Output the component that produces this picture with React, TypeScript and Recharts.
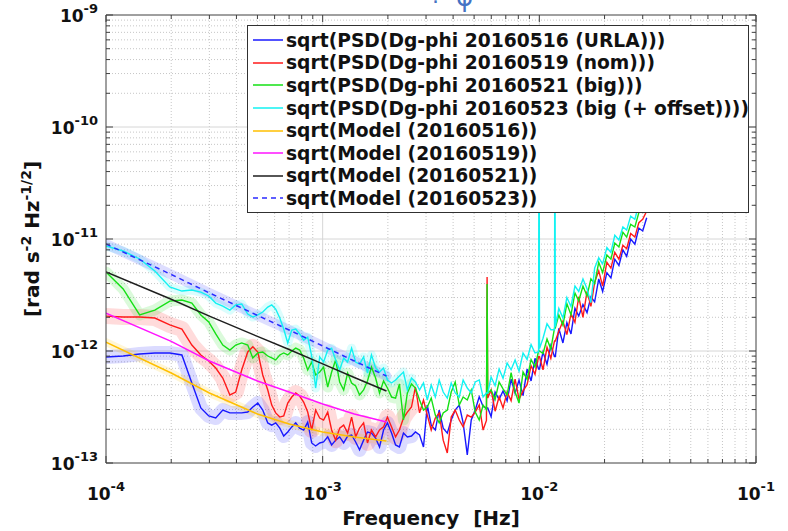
import React from 'react';
import { ComposedChart, Line, XAxis, YAxis, CartesianGrid, Legend, Label } from 'recharts';

const FONT = '"DejaVu Sans", "Liberation Sans", sans-serif';
const AXIS = '#404040';
const TEXT = '#111111';

// frequency grid shared by the four measured spectra [Hz]
const FREQ_HZ = [
  1.0e-4, 1.2e-4, 1.43e-4, 1.68e-4, 1.97e-4, 2.24e-4, 2.49e-4, 2.74e-4, 2.98e-4, 3.21e-4,
  3.46e-4, 3.73e-4, 3.97e-4, 4.23e-4, 4.51e-4, 4.76e-4, 5.02e-4, 5.29e-4, 5.58e-4, 5.82e-4,
  6.07e-4, 6.34e-4, 6.61e-4, 6.9e-4, 7.2e-4, 7.51e-4, 7.83e-4, 8.17e-4, 8.53e-4, 8.9e-4,
  9.28e-4, 9.69e-4,
  1.01e-3, 1.055e-3, 1.1e-3, 1.148e-3, 1.198e-3, 1.25e-3, 1.304e-3, 1.36e-3, 1.42e-3, 1.48e-3,
  1.545e-3, 1.61e-3, 1.68e-3, 1.755e-3, 1.83e-3, 1.91e-3, 1.99e-3, 2.08e-3, 2.17e-3, 2.26e-3,
  2.36e-3, 2.46e-3, 2.57e-3, 2.68e-3, 2.8e-3, 2.92e-3, 3.04e-3, 3.17e-3, 3.31e-3, 3.45e-3,
  3.6e-3, 3.76e-3, 3.92e-3, 4.09e-3, 4.27e-3, 4.45e-3, 4.65e-3, 4.85e-3, 5.06e-3, 5.28e-3,
  5.5e-3, 5.7e-3, 5.74e-3, 5.78e-3, 5.99e-3, 6.25e-3, 6.52e-3, 6.8e-3, 7.1e-3, 7.41e-3,
  7.73e-3, 8.06e-3, 8.41e-3, 8.78e-3, 9.16e-3, 9.55e-3, 9.92e-3, 9.97e-3, 1.002e-2, 1.04e-2,
  1.085e-2, 1.13e-2, 1.175e-2, 1.18e-2, 1.185e-2, 1.23e-2, 1.285e-2, 1.34e-2, 1.4e-2, 1.46e-2,
  1.52e-2, 1.59e-2, 1.66e-2, 1.73e-2, 1.8e-2, 1.88e-2, 1.96e-2, 2.05e-2, 2.14e-2, 2.23e-2,
  2.33e-2, 2.43e-2, 2.53e-2, 2.64e-2, 2.76e-2, 2.88e-2, 3.0e-2, 3.13e-2,
];

// all amplitudes below are in units of 1e-13 rad s^-2 Hz^-1/2
const PSD_0516 = [
  8.84, 9.02, 9.4, 9.61, 9.61, 9.22, 5.18, 3.1, 2.63, 2.52, 2.97, 2.8, 2.8, 2.8, 2.85, 3.16,
  3.43, 2.97, 2.28, 2.18, 2.28, 2.05, 1.74, 1.89, 2.1, 2.28, 2.05, 1.97, 2.32, 1.51, 1.42, 1.51,
  1.54, 1.71, 1.45, 1.6, 1.71, 1.51, 1.74, 1.78, 1.54, 1.31,
  1.6, 1.89, 1.85, 1.67, 1.39, 1.97, 2.28, 1.85, 1.45, 1.39,
  1.85, 1.71, 1.74, 1.89, 1.78, 1.39, 3.29, 2.18, 1.97, 2.97,
  2.05, 1.85, 2.42, 2.97, 3.29, 2.28, 1.18, 2.42,
  2.97, 3.9, 3.2, 3.1, 3.1, 3.1,
  2.6, 4.3, 3.7, 4.4, 3.6, 5.6, 4.2, 5.5, 4.0, 6.9, 5.4, 8.6,
  6.9, 6.9, 6.9, 9.8, 7.6, 11.2, 8.9, 8.9, 8.9,
  15.9, 11.8, 17.9, 14.2, 24.0, 20.5, 26.0, 22.0, 30.5, 27.5,
  44.0, 34.0, 50.0, 45.0, 66.0, 58.0, 80.0, 70.0, 100, 90,
  125, 118, 155,
];

const PSD_0519 = [
  20.5, 20.1, 20.1, 19.7, 17.1, 15.7, 11.3, 9.22, 8.14, 7.05, 5.74, 4.05, 4.3, 6.76, 9.8, 10.9,
  9.8, 6.11, 4.49, 3.29, 2.8, 2.57, 2.63, 3.43, 3.88, 4.22, 3.96, 3.5, 2.85, 1.97, 2.97, 2.52,
  2.42, 2.85, 1.97, 1.6, 2.05, 2.18, 1.85, 2.57, 1.71, 2.05,
  2.28, 1.51, 1.97, 1.71, 1.97, 2.1, 2.57, 2.1, 1.71, 1.97,
  2.52, 2.85, 3.16, 4.77, 2.8, 3.65, 2.68, 1.97, 2.52, 2.8,
  1.6, 1.23, 2.57, 2.97, 2.42, 2.1, 2.68, 2.57,
  2.85, 3.3, 1.97, 2.4, 45.8, 3.8,
  4.49, 2.9, 3.9, 3.1, 4.3, 3.6, 5.6, 3.7, 4.4, 5.0, 7.4, 6.2,
  8.9, 8.9, 8.9, 6.8, 10.8, 8.6, 12.3, 12.3, 12.3,
  15.0, 18.5, 14.0, 21.5, 18.0, 30.5, 20.0, 34.0, 25.0, 41.0,
  52.0, 38.0, 62.0, 55.0, 76.0, 66.0, 88.0, 82.0, 112, 104,
  140, 150, 178,
];

const PSD_0521 = [
  50.7, 35.8, 21.0, 23.2, 27.9, 28.5, 26.8, 21.0, 18.2, 14.2, 11.3, 10.2, 11.3, 11.8, 11.3, 8.66,
  9.61, 9.8, 9.02, 8.66, 8.32, 9.22, 9.61, 9.22, 10.0, 10.6, 10.2, 8.66, 6.76, 7.97, 6.11, 6.49,
  7.19, 4.77, 6.49, 8.32, 5.29, 4.49, 6.36, 5.18, 4.87, 4.05,
  4.49, 5.4, 7.19, 5.74, 4.22, 5.4, 4.67, 3.88, 3.8, 5.08,
  2.42, 4.22, 5.08, 4.67, 3.65, 2.97, 3.16, 3.8, 2.68, 2.28,
  2.8, 2.97, 4.3, 5.29, 3.29, 3.88, 3.65, 4.49,
  2.85, 2.42, 3.29, 3.0, 39.6, 4.2,
  4.49, 3.7, 5.3, 4.6, 4.05, 6.4, 4.3, 3.43, 6.5, 5.6, 8.4, 7.2,
  10.0, 10.0, 10.0, 9.5, 12.8, 10.4, 16.0, 16.0, 16.0,
  21.0, 17.0, 26.5, 21.0, 33.0, 28.0, 38.0, 31.0, 44.0, 40.0,
  62.0, 50.0, 72.0, 66.0, 92.0, 85.0, 115, 104, 135, 128,
  172, 185, 222,
];

const PSD_0523 = [
  86.6, 78.1, 66.3, 51.8, 37.3, 34.3, 35.0, 33.6, 31.0, 26.8, 25.2, 23.2, 25.8, 26.3, 21.4, 20.1,
  21.0, 22.3, 24.7, 25.8, 23.7, 19.7, 15.7, 11.8, 15.4, 15.7, 14.2, 12.5, 13.3, 9.02, 4.67, 8.85,
  7.97, 10.2, 10.6, 8.32, 6.76, 8.66, 7.97, 10.6, 7.97, 7.65,
  8.85, 6.36, 9.22, 7.05, 6.49, 7.05, 5.51, 5.18, 5.51, 5.98,
  6.49, 4.49, 5.74, 5.29, 4.49, 5.18, 3.65, 4.97, 3.88, 5.51,
  4.3, 3.8, 5.18, 4.22, 3.88, 5.51, 4.67, 4.22,
  5.29, 5.51, 3.88, 4.22, 4.22, 4.22,
  5.86, 4.9, 6.9, 5.7, 7.8, 6.8, 8.3, 6.6, 9.6, 8.4, 11.4, 9.6,
  9.8, 5000, 10.5, 13.0, 17.5, 15.5, 15.5, 5000, 16.5,
  24.0, 19.7, 30.0, 25.0, 38.0, 34.0, 44.0, 36.0, 27.0, 55.0,
  68.0, 60.0, 84.0, 76.0, 108, 98, 128, 120, 160, 150,
  205, 215, 250,
];

// model curves
const MODEL_FREQ_HZ = [1e-4, 2e-4, 3e-4, 5e-4, 7e-4, 1e-3, 1.4e-3, 1.97e-3];
const MODEL_0516 = [12.0, 6.36, 4.22, 2.74, 2.23, 1.89, 1.71, 1.57];
const MODEL_0519 = [21.8, 12.2, 8.14, 5.4, 4.3, 3.36, 2.74, 2.32];
const MODEL_0521 = [50.7, 29.0, 20.5, 13.5, 10.3, 7.67, 5.8, 4.39];
const MODEL_0523 = [90.2, 48.2, 33.0, 20.8, 15.4, 11.1, 8.14, 5.98];

const LEGEND_ITEMS = [
  { label: 'sqrt(PSD(Dg-phi 20160516 (URLA)))', color: '#1818ff', dash: undefined },
  { label: 'sqrt(PSD(Dg-phi 20160519 (nom)))', color: '#ff1a1a', dash: undefined },
  { label: 'sqrt(PSD(Dg-phi 20160521 (big)))', color: '#14e014', dash: undefined },
  { label: 'sqrt(PSD(Dg-phi 20160523 (big (+ offset))))', color: '#12f2f2', dash: undefined },
  { label: 'sqrt(Model (20160516))', color: '#ffbf00', dash: undefined },
  { label: 'sqrt(Model (20160519))', color: '#ff14ff', dash: undefined },
  { label: 'sqrt(Model (20160521))', color: '#1e1e1e', dash: undefined },
  { label: 'sqrt(Model (20160523))', color: '#2a2aff', dash: '5 4' },
];

const X_DECADES = [1e-4, 1e-3, 1e-2, 1e-1];
const Y_DECADES = [1, 10, 100, 1000, 10000];
const MINOR_STEPS = [2, 3, 4, 5, 6, 7, 8, 9];

const X_MINOR = X_DECADES.slice(0, -1).flatMap((d) => MINOR_STEPS.map((m) => m * d));
const Y_MINOR = Y_DECADES.slice(0, -1).flatMap((d) => MINOR_STEPS.map((m) => m * d));
const X_TICKS = [...X_DECADES, ...X_MINOR].sort((a, b) => a - b);
const Y_TICKS = [...Y_DECADES, ...Y_MINOR].sort((a, b) => a - b);

const psdRows = FREQ_HZ.map((f, i) => ({
  f,
  blue: PSD_0516[i],
  red: PSD_0519[i],
  green: PSD_0521[i],
  cyan: PSD_0523[i],
}));
const bandRows = psdRows.filter((r) => r.f <= 2.6e-3);
const modelRows = MODEL_FREQ_HZ.map((f, i) => ({
  f,
  yellow: MODEL_0516[i],
  magenta: MODEL_0519[i],
  black: MODEL_0521[i],
  dashed: MODEL_0523[i],
}));

const isDecade = (v: number) => {
  const l = Math.log10(v);
  return Math.abs(l - Math.round(l)) < 1e-6;
};

function BottomTick({ x, y, payload }: any) {
  const v = payload.value;
  const major = isDecade(v);
  return (
    <g>
      <line x1={x} x2={x} y1={y} y2={y - (major ? 7 : 4)} stroke={AXIS} />
      {major && (
        <text x={x} y={y + 37} textAnchor="middle" fontFamily={FONT} fontWeight="bold" fontSize={17} fill={TEXT}>
          10<tspan dy={-9} fontSize={13}>{Math.round(Math.log10(v))}</tspan>
        </text>
      )}
    </g>
  );
}

function TopTick({ x, y, payload }: any) {
  const major = isDecade(payload.value);
  return <line x1={x} x2={x} y1={y} y2={y + (major ? 7 : 4)} stroke={AXIS} />;
}

function LeftTick({ x, y, payload }: any) {
  const v = payload.value;
  const major = isDecade(v);
  return (
    <g>
      <line x1={x} x2={x + (major ? 7 : 4)} y1={y} y2={y} stroke={AXIS} />
      {major && (
        <text x={x - 8} y={y + 7} textAnchor="end" fontFamily={FONT} fontWeight="bold" fontSize={17} fill={TEXT}>
          10<tspan dy={-9} fontSize={13}>{-13 + Math.round(Math.log10(v))}</tspan>
        </text>
      )}
    </g>
  );
}

function RightTick({ x, y, payload }: any) {
  const major = isDecade(payload.value);
  return <line x1={x} x2={x - (major ? 7 : 4)} y1={y} y2={y} stroke={AXIS} />;
}

function YTitle(props: any) {
  const vb = props.viewBox || { x: 0, y: 15, width: 106, height: 448 };
  const cx = 39;
  const cy = vb.y + vb.height / 2;
  return (
    <text
      x={cx}
      y={cy}
      transform={`rotate(-90 ${cx} ${cy})`}
      textAnchor="middle"
      fontFamily={FONT}
      fontWeight="bold"
      fontSize={20}
      fill={TEXT}
    >
      [rad s<tspan dy={-8} fontSize={14}>-2</tspan>
      <tspan dy={8}> Hz</tspan>
      <tspan dy={-8} fontSize={14}>-1/2</tspan>
      <tspan dy={8}>]</tspan>
    </text>
  );
}

function XTitle(props: any) {
  const vb = props.viewBox || { x: 106, y: 463, width: 650, height: 68 };
  return (
    <text
      x={vb.x + vb.width / 2}
      y={vb.y + 62}
      textAnchor="middle"
      fontFamily={FONT}
      fontWeight="bold"
      fontSize={20}
      fill={TEXT}
      style={{ whiteSpace: 'pre' }}
    >
      {'Frequency  [Hz]'}
    </text>
  );
}

function LegendBox() {
  return (
    <div
      style={{
        boxSizing: 'border-box',
        width: 502,
        height: 188,
        border: '1px solid #303030',
        background: '#ffffff',
        paddingTop: 3,
        fontFamily: FONT,
        fontWeight: 'bold',
        fontSize: 18.7,
        color: TEXT,
      }}
    >
      {LEGEND_ITEMS.map((item) => (
        <div key={item.label} style={{ display: 'flex', alignItems: 'center', height: 22.6, whiteSpace: 'nowrap' }}>
          <svg width={38} height={8} style={{ flex: 'none' }}>
            <line x1={5} x2={35} y1={4} y2={4} stroke={item.color} strokeWidth={1.5} strokeDasharray={item.dash} />
          </svg>
          <span>{item.label}</span>
        </div>
      ))}
    </div>
  );
}

const band = (key: string, color: string, width: number, rows: any[]) => (
  <Line
    key={`band-${key}`}
    data={rows}
    dataKey={key}
    stroke={color}
    strokeOpacity={0.16}
    strokeWidth={width}
    strokeLinejoin="round"
    strokeLinecap="round"
    dot={false}
    activeDot={false}
    legendType="none"
    isAnimationActive={false}
  />
);

export default function App() {
  return (
    <div style={{ position: 'absolute', left: 0, top: 0, width: 788, height: 531, background: '#ffffff' }}>
      <ComposedChart width={788} height={531} margin={{ top: 14, right: 31, bottom: 0, left: 0 }}>
        <CartesianGrid verticalValues={X_MINOR} horizontalValues={Y_MINOR} stroke="#c6c6c6" strokeDasharray="1 2" />
        <CartesianGrid
          verticalValues={X_DECADES.slice(1, -1)}
          horizontalValues={Y_DECADES.slice(1, -1)}
          stroke="#d6d6d6"
        />
        <XAxis
          xAxisId={0}
          type="number"
          dataKey="f"
          scale="log"
          domain={[1e-4, 1e-1]}
          allowDataOverflow
          ticks={X_TICKS}
          interval={0}
          tick={<BottomTick />}
          tickLine={false}
          tickSize={0}
          tickMargin={0}
          height={68}
          axisLine={{ stroke: AXIS }}
        >
          <Label content={<XTitle />} />
        </XAxis>
        <XAxis
          xAxisId="top"
          orientation="top"
          type="number"
          dataKey="f"
          scale="log"
          domain={[1e-4, 1e-1]}
          allowDataOverflow
          ticks={X_TICKS}
          interval={0}
          tick={<TopTick />}
          tickLine={false}
          tickSize={0}
          tickMargin={0}
          height={1}
          axisLine={{ stroke: AXIS }}
        />
        <YAxis
          yAxisId={0}
          type="number"
          scale="log"
          domain={[1, 10000]}
          allowDataOverflow
          ticks={Y_TICKS}
          interval={0}
          tick={<LeftTick />}
          tickLine={false}
          tickSize={0}
          tickMargin={0}
          width={106}
          axisLine={{ stroke: AXIS }}
        >
          <Label content={<YTitle />} />
        </YAxis>
        <YAxis
          yAxisId="right"
          orientation="right"
          type="number"
          scale="log"
          domain={[1, 10000]}
          allowDataOverflow
          ticks={Y_TICKS}
          interval={0}
          tick={<RightTick />}
          tickLine={false}
          tickSize={0}
          tickMargin={0}
          width={1}
          axisLine={{ stroke: AXIS }}
        />

        {band('blue', '#2020ff', 14, bandRows)}
        {band('red', '#ff2020', 16, bandRows)}
        {band('green', '#20e020', 11, bandRows)}
        {band('cyan', '#20f0f0', 9, bandRows)}
        {band('yellow', '#ffc800', 8, modelRows)}
        {band('dashed', '#3030ff', 10, modelRows)}

        <Line data={psdRows} dataKey="blue" stroke={LEGEND_ITEMS[0].color} strokeWidth={1.4} dot={false} activeDot={false} isAnimationActive={false} />
        <Line data={psdRows} dataKey="red" stroke={LEGEND_ITEMS[1].color} strokeWidth={1.4} dot={false} activeDot={false} isAnimationActive={false} />
        <Line data={psdRows} dataKey="green" stroke={LEGEND_ITEMS[2].color} strokeWidth={1.4} dot={false} activeDot={false} isAnimationActive={false} />
        <Line data={psdRows} dataKey="cyan" stroke={LEGEND_ITEMS[3].color} strokeWidth={1.4} dot={false} activeDot={false} isAnimationActive={false} />
        <Line data={modelRows} dataKey="yellow" stroke={LEGEND_ITEMS[4].color} strokeWidth={1.5} dot={false} activeDot={false} isAnimationActive={false} />
        <Line data={modelRows} dataKey="magenta" stroke={LEGEND_ITEMS[5].color} strokeWidth={1.5} dot={false} activeDot={false} isAnimationActive={false} />
        <Line data={modelRows} dataKey="black" stroke={LEGEND_ITEMS[6].color} strokeWidth={1.5} dot={false} activeDot={false} isAnimationActive={false} />
        <Line data={modelRows} dataKey="dashed" stroke={LEGEND_ITEMS[7].color} strokeWidth={1.5} strokeDasharray="5 4" dot={false} activeDot={false} isAnimationActive={false} />

        <Legend
          content={<LegendBox />}
          layout="horizontal"
          verticalAlign="middle"
          align="center"
          wrapperStyle={{ position: 'absolute', top: 25, left: 247, width: 502, height: 188 }}
        />
      </ComposedChart>
      <svg width={788} height={20} style={{ position: 'absolute', left: 0, top: 0, pointerEvents: 'none' }}>
        <text x={432} y={3} fontFamily={FONT} fontSize={22} fill="#4472c4">.</text>
        <text x={456} y={6} fontFamily={FONT} fontSize={26} fill="#4472c4">φ</text>
      </svg>
    </div>
  );
}
